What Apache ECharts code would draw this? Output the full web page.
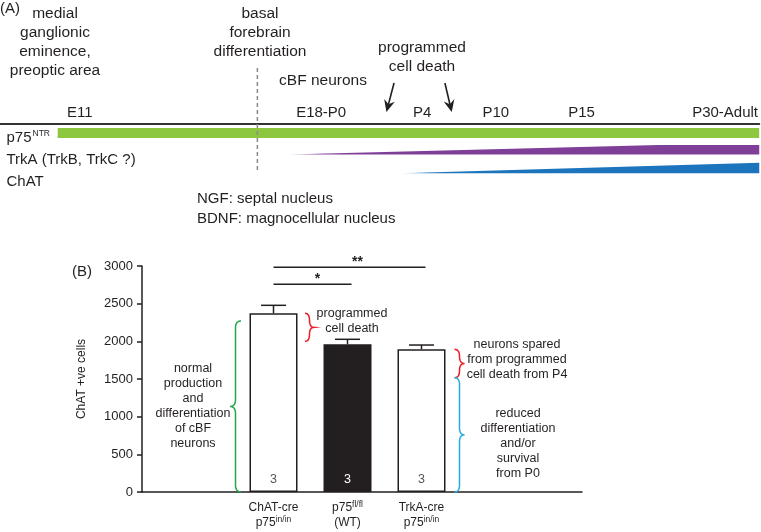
<!DOCTYPE html>
<html><head><meta charset="utf-8">
<script src="https://cdn.jsdelivr.net/npm/echarts@6/dist/echarts.min.js"></script>
<style>html,body{margin:0;padding:0;background:#fff}#c{width:761px;height:532px}</style>
</head><body><div id="c"></div>
<script>
// ---------- Panel A: developmental timeline (timeline units 0..10) ----------
const stages = ['E11', 'E18-P0', 'P4', 'P10', 'P15', 'P30-Adult'];
const stageTime = [1.05, 4.23, 5.56, 6.53, 7.66, 9.55];
const differentiationTime = 3.39;
const p75Expr  = [[0.76, 1], [10, 1]];          // [time, relative expression]
const trkAExpr = [[3.78, 0], [8.67, 1], [10, 1]];
const chatExpr = [[5.28, 0], [10, 1]];
const deathArrows = [[5.19, 5.09], [5.86, 5.95]]; // [time at tail, time at tip]

// ---------- Panel B: ChAT+ cell counts ----------
const groups = ['ChAT-cre\np75{sup|in/in}', 'p75{sup|fl/fl}\n(WT)', 'TrkA-cre\np75{sup|in/in}'];
const cellMeans = [2372, 1960, 1894];
const cellSem = [106, 67, 57];
const nAnimals = [3, 3, 3];
const significance = [[0, 1, 2757, '*'], [0, 2, 2983, '**']];   // [group a, group b, level, mark]
const braceSpans = [[0, 0, 2270], [0, 2000, 2372], [2, 1517, 1894], [2, 0, 1517]]; // [group, from, to]

// ---------- styles ----------
const FONT = '"Liberation Sans", Arial, sans-serif';
const INK = '#231f20';
const rowA = { p75: { base: 14, thick: 10, color: '#8dc63f' }, trkA: { base: 30.5, thick: 9.5, color: '#7f3f98', tip: '#d9bfe3' }, chat: { base: 49.3, thick: 10.6, color: '#1c75bc', tip: '#bcd8ef' } };
const barFill = ['#ffffff', INK, '#ffffff'];
const nColor = ['#555555', '#ffffff', '#555555'];
const starShift = [5, 8];
const braceStyle = [
  { off: -32.5, w: -11, color: '#1fa84a' },
  { off: 31.5, w: 9, color: '#ed1c24' },
  { off: 33, w: 10, color: '#ed1c24' },
  { off: 33, w: 10, color: '#29abe2' }
];

const chart = echarts.init(document.getElementById('c'), null, { renderer: 'canvas', width: 761, height: 532 });

function exprRender(expr, row) {
  return function (params, api) {
    if (params.dataIndex !== 0) return;
    const top = expr.map(d => api.coord([d[0], row.base - d[1] * row.thick]));
    const bottom = expr.slice().reverse().map(d => api.coord([d[0], row.base]));
    let fill = row.color;
    if (row.tip) fill = new echarts.graphic.LinearGradient(0, 0, 1, 0, [
      { offset: 0, color: row.tip }, { offset: 0.07, color: row.color }, { offset: 1, color: row.color }]);
    return { type: 'polygon', shape: { points: top.concat(bottom) }, style: { fill: fill } };
  };
}

function q(p0, p1, p2, t) {
  const a = (1 - t) * (1 - t), b = 2 * (1 - t) * t, c = t * t;
  return [a * p0[0] + b * p1[0] + c * p2[0], a * p0[1] + b * p1[1] + c * p2[1]];
}
function bracePoints(xb, y1, y2, w) {
  const ym = (y1 + y2) / 2, xm = xb + w / 2, r = Math.min(7, (y2 - y1) / 4);
  const pts = [];
  const seg = (p0, p1, p2) => { for (let i = 0; i <= 8; i++) pts.push(q(p0, p1, p2, i / 8)); };
  seg([xb, y1], [xm, y1], [xm, y1 + r]);
  seg([xm, ym - r], [xm, ym], [xb + w, ym]);
  seg([xb + w, ym], [xm, ym], [xm, ym + r]);
  seg([xm, y2 - r], [xm, y2], [xb, y2]);
  return pts;
}

function txt(text, x, y, opt) {
  opt = opt || {};
  return {
    type: 'text', x: x, y: y, silent: true,
    style: {
      text: text, fill: INK, fontFamily: FONT, fontSize: opt.size || 15.5,
      textAlign: opt.align || 'center', textVerticalAlign: opt.va || 'top',
      lineHeight: opt.lh || 19
    }
  };
}

const graphics = [
  txt('(A)', 0, 9, { align: 'left', va: 'middle', size: 15 }),
  txt('medial\nganglionic\neminence,\npreoptic area', 55, 4.5),
  txt('basal\nforebrain\ndifferentiation', 260, 4.5),
  txt('cBF neurons', 323, 80.5, { va: 'middle' }),
  txt('programmed\ncell death', 422, 38),
  txt('p75', 6.5, 137.5, { align: 'left', va: 'middle', size: 15 }),
  txt('NTR', 32.5, 133.5, { align: 'left', va: 'middle', size: 8.5 }),
  txt('TrkA (TrkB, TrkC ?)', 6.5, 159.5, { align: 'left', va: 'middle', size: 15 }),
  txt('ChAT', 6.5, 181.5, { align: 'left', va: 'middle', size: 15 }),
  txt('NGF: septal nucleus', 197, 199, { align: 'left', va: 'middle', size: 15 }),
  txt('BDNF: magnocellular nucleus', 197, 218.5, { align: 'left', va: 'middle', size: 15 }),
  txt('(B)', 82, 272, { va: 'middle', size: 15 }),
  txt('programmed\ncell death', 352, 305.8, { size: 12.5, lh: 15 }),
  txt('normal\nproduction\nand\ndifferentiation\nof cBF\nneurons', 193, 360.8, { size: 12.5, lh: 15 }),
  txt('neurons spared\nfrom programmed\ncell death from P4', 517, 337.5, { size: 12.5, lh: 15 }),
  txt('reduced\ndifferentiation\nand/or\nsurvival\nfrom P0', 518, 405.8, { size: 12.5, lh: 15 })
];

const option = {
  animation: false,
  backgroundColor: '#ffffff',
  textStyle: { fontFamily: FONT, color: INK },
  grid: [
    { left: 0, right: 0, top: 124, height: 60 },
    { left: 142, right: 179, top: 266, bottom: 40 },
    { left: 236.5, width: 222, top: 266, bottom: 40 }
  ],
  xAxis: [
    {
      gridIndex: 0, type: 'value', position: 'top', min: 0, max: 10,
      splitLine: { show: false }, axisTick: { show: false },
      axisLine: { show: true, onZero: false, lineStyle: { color: '#333', width: 2 } },
      axisLabel: {
        show: true, customValues: stageTime, margin: 4, fontSize: 15, color: INK, fontFamily: FONT,
        formatter: v => { const i = stageTime.indexOf(v); return i >= 0 ? stages[i] : ''; }
      }
    },
    {
      gridIndex: 1, type: 'category', data: [''],
      axisLine: { show: true, onZero: false, lineStyle: { color: INK, width: 1.5 } },
      axisTick: { show: false }, axisLabel: { show: false }, splitLine: { show: false }
    },
    {
      gridIndex: 2, type: 'category', data: groups,
      axisLine: { show: false }, axisTick: { show: false }, splitLine: { show: false },
      axisLabel: {
        interval: 0, margin: 8.5, fontSize: 12, lineHeight: 15, color: INK, fontFamily: FONT,
        rich: { sup: { fontSize: 8.5, verticalAlign: 'top', lineHeight: 15, color: INK, fontFamily: FONT, padding: [0, 0, 4, 0] } }
      }
    }
  ],
  yAxis: [
    { gridIndex: 0, type: 'value', min: 0, max: 60, inverse: true, show: false },
    {
      gridIndex: 1, type: 'value', min: 0, max: 3000, interval: 500,
      axisLine: { show: true, lineStyle: { color: INK, width: 1.5 } },
      axisTick: { show: true, length: 5, lineStyle: { color: INK, width: 1.5 } },
      axisLabel: { fontSize: 13, color: INK, margin: 9, fontFamily: FONT, formatter: v => String(v) },
      splitLine: { show: false },
      name: 'ChAT +ve cells', nameLocation: 'middle', nameRotate: 90, nameGap: 54,
      nameTextStyle: { fontSize: 12, color: INK, fontFamily: FONT }
    },
    { gridIndex: 2, type: 'value', min: 0, max: 3000, show: false }
  ],
  series: [
    { type: 'custom', xAxisIndex: 0, yAxisIndex: 0, data: p75Expr, renderItem: exprRender(p75Expr, rowA.p75), silent: true },
    { type: 'custom', xAxisIndex: 0, yAxisIndex: 0, data: trkAExpr, renderItem: exprRender(trkAExpr, rowA.trkA), silent: true },
    { type: 'custom', xAxisIndex: 0, yAxisIndex: 0, data: chatExpr, renderItem: exprRender(chatExpr, rowA.chat), silent: true },
    {
      type: 'custom', xAxisIndex: 0, yAxisIndex: 0, data: [[differentiationTime]], silent: true, clip: false,
      renderItem: (params, api) => {
        const a = api.coord([api.value(0), -56]), b = api.coord([api.value(0), 49]);
        return { type: 'line', shape: { x1: a[0], y1: a[1], x2: b[0], y2: b[1] }, style: { stroke: '#8a8a8a', lineWidth: 1.5, lineDash: [4, 3] } };
      }
    },
    {
      type: 'custom', xAxisIndex: 0, yAxisIndex: 0, data: deathArrows, silent: true, clip: false,
      renderItem: (params, api) => {
        const p0 = api.coord([api.value(0), -41]), p1 = api.coord([api.value(1), -12]);
        const dx = p1[0] - p0[0], dy = p1[1] - p0[1], L = Math.hypot(dx, dy);
        const ux = dx / L, uy = dy / L, nx = -uy, ny = ux;
        const base = [p1[0] - ux * 12, p1[1] - uy * 12], notch = [p1[0] - ux * 8, p1[1] - uy * 8];
        return {
          type: 'group', children: [
            { type: 'line', shape: { x1: p0[0], y1: p0[1], x2: notch[0], y2: notch[1] }, style: { stroke: INK, lineWidth: 1.6 } },
            { type: 'polygon', shape: { points: [p1, [base[0] + nx * 5.5, base[1] + ny * 5.5], notch, [base[0] - nx * 5.5, base[1] - ny * 5.5]] }, style: { fill: INK } }
          ]
        };
      }
    },
    {
      type: 'bar', xAxisIndex: 2, yAxisIndex: 2, barWidth: 48, silent: true,
      data: cellMeans.map((v, i) => ({
        value: v,
        itemStyle: { color: barFill[i], borderColor: INK, borderWidth: 1.5 },
        label: { show: true, position: 'insideBottom', distance: 6, formatter: String(nAnimals[i]), color: nColor[i], fontSize: 12.5, fontFamily: FONT }
      }))
    },
    {
      type: 'custom', xAxisIndex: 2, yAxisIndex: 2, silent: true, clip: false,
      data: cellMeans.map((v, i) => [i, v, v + cellSem[i]]),
      renderItem: (params, api) => {
        const a = api.coord([api.value(0), api.value(1)]), b = api.coord([api.value(0), api.value(2)]);
        const st = { stroke: INK, lineWidth: 1.5 };
        return {
          type: 'group', children: [
            { type: 'line', shape: { x1: a[0], y1: a[1], x2: b[0], y2: b[1] }, style: st },
            { type: 'line', shape: { x1: b[0] - 12.5, y1: b[1], x2: b[0] + 12.5, y2: b[1] }, style: st }
          ]
        };
      }
    },
    {
      type: 'custom', xAxisIndex: 2, yAxisIndex: 2, silent: true, clip: false,
      data: significance.map(s => [s[0], s[1], s[2]]),
      renderItem: (params, api) => {
        const a = api.coord([api.value(0), api.value(2)]), b = api.coord([api.value(1), api.value(2)]);
        return {
          type: 'group', children: [
            { type: 'line', shape: { x1: a[0], y1: a[1], x2: b[0] + 4, y2: b[1] }, style: { stroke: INK, lineWidth: 1.5 } },
            { type: 'text', x: (a[0] + b[0] + 4) / 2 + starShift[params.dataIndex], y: a[1] + 2, style: { text: significance[params.dataIndex][3], fill: INK, fontFamily: FONT, fontSize: 14, fontWeight: 'bold', textAlign: 'center', textVerticalAlign: 'bottom' } }
          ]
        };
      }
    },
    {
      type: 'custom', xAxisIndex: 2, yAxisIndex: 2, silent: true, clip: false,
      data: braceSpans,
      renderItem: (params, api) => {
        const s = braceStyle[params.dataIndex];
        const top = api.coord([api.value(0), api.value(2)]), bot = api.coord([api.value(0), api.value(1)]);
        const pts = bracePoints(top[0] + s.off, top[1], bot[1], s.w);
        return { type: 'polyline', shape: { points: pts }, style: { stroke: s.color, lineWidth: 1.5, fill: null } };
      }
    }
  ],
  graphic: graphics
};
chart.setOption(option);
</script></body></html>
